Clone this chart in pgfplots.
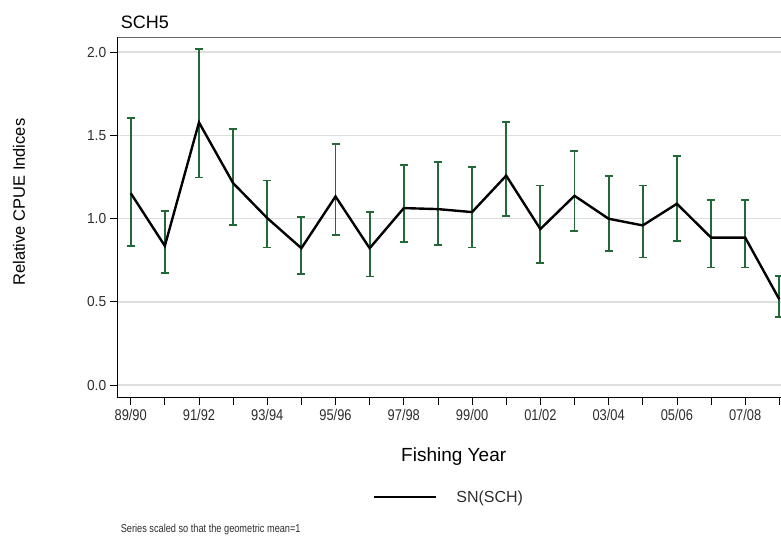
\documentclass[border=0pt]{standalone}
\usepackage{pgfplots}
\usepackage{pgfplotstable}
\pgfplotsset{compat=1.18}
\usepackage{fontspec}
\setmainfont{Liberation Sans}
\definecolor{errgreen}{RGB}{35,105,55}
\definecolor{gridgrey}{RGB}{222,222,222}
\definecolor{txtgrey}{RGB}{45,45,45}
\pgfplotstableread{
x y ep em
0 1.153 0.451 0.319
1 0.836 0.207 0.164
2 1.578 0.440 0.331
3 1.213 0.327 0.254
4 1.003 0.226 0.177
5 0.822 0.189 0.156
6 1.133 0.317 0.233
7 0.822 0.215 0.170
8 1.063 0.261 0.205
9 1.057 0.285 0.217
10 1.039 0.269 0.213
11 1.258 0.324 0.243
12 0.937 0.262 0.205
13 1.137 0.271 0.214
14 0.999 0.255 0.195
15 0.959 0.240 0.193
16 1.089 0.289 0.225
17 0.886 0.223 0.180
18 0.886 0.223 0.180
19 0.515 0.139 0.104
}\datatable
\begin{document}
\begin{tikzpicture}
\path[use as bounding box] (0pt,0pt) rectangle (781pt,-536pt);
\begin{axis}[
  at={(117.5pt,-397.5pt)}, anchor=south west,
  scale only axis, width=663.5pt, height=360.5pt,
  xmin=-0.387, xmax=19.05, ymin=-0.075, ymax=2.091,
  axis x line*=bottom, axis y line*=left,
  axis line style={-, black, line width=1.1pt},
  xtick={0,...,19},
  xticklabels={89/90,,91/92,,93/94,,95/96,,97/98,,99/00,,01/02,,03/04,,05/06,,07/08,},
  ytick={0,0.5,1,1.5,2},
  yticklabels={0.0,0.5,1.0,1.5,2.0},
  tick align=outside, major tick length=7pt,
  tick style={black, line width=0.7pt},
  ymajorgrids, grid style={gridgrey, line width=1.6pt},
  /pgf/number format/assume math mode=true,
  xticklabel style={font=\fontsize{15.5}{17}\selectfont, text=txtgrey, xscale=0.83, yshift=-1pt},
  yticklabel style={font=\fontsize{14.5}{16}\selectfont, text=txtgrey, xscale=0.95, xshift=-1pt},
  xlabel={Fishing Year},
  xlabel style={at={(axis description cs:0.5067,-0.165)}, anchor=center, font=\fontsize{19}{22}\selectfont},
  ylabel={Relative CPUE Indices},
  ylabel style={at={(axis description cs:-0.1485,0.542)}, anchor=center, font=\fontsize{16.5}{19}\selectfont},
  legend style={at={(axis description cs:0.4996,-0.276)}, anchor=center, draw=none, fill=none,
    font=\fontsize{16}{18}\selectfont, text=txtgrey},
  legend cell align=left,
  legend image code/.code={\draw[black, line width=2.4pt] (0pt,0pt) -- (62pt,0pt);},
  clip=false,
]
\addplot[draw=none, mark=none, forget plot,
  error bars/.cd, y dir=both, y explicit,
  error bar style={draw=errgreen, solid, line width=1.9pt},
  error mark options={draw=errgreen, solid, line width=1.9pt, mark size=4pt, rotate=90}]
  table[x=x, y=y, y error plus=ep, y error minus=em] {\datatable};
\addplot[black, line width=2.4pt, mark=none] table[x=x, y=y] {\datatable};
\addlegendentry{\hspace{17pt}SN(SCH)}
\draw[black!60, line width=0.8pt] (rel axis cs:0,1) -- (rel axis cs:1,1);
\end{axis}
\node[anchor=base west, inner sep=0pt, font=\fontsize{18}{21}\selectfont] at (120.7pt,-28.3pt) {SCH5};
\node[anchor=base west, inner sep=0pt, font=\fontsize{11.5}{13}\selectfont, text=txtgrey, xscale=0.8] at (120.7pt,-532pt) {Series scaled so that the geometric mean=1};
\end{tikzpicture}
\end{document}
